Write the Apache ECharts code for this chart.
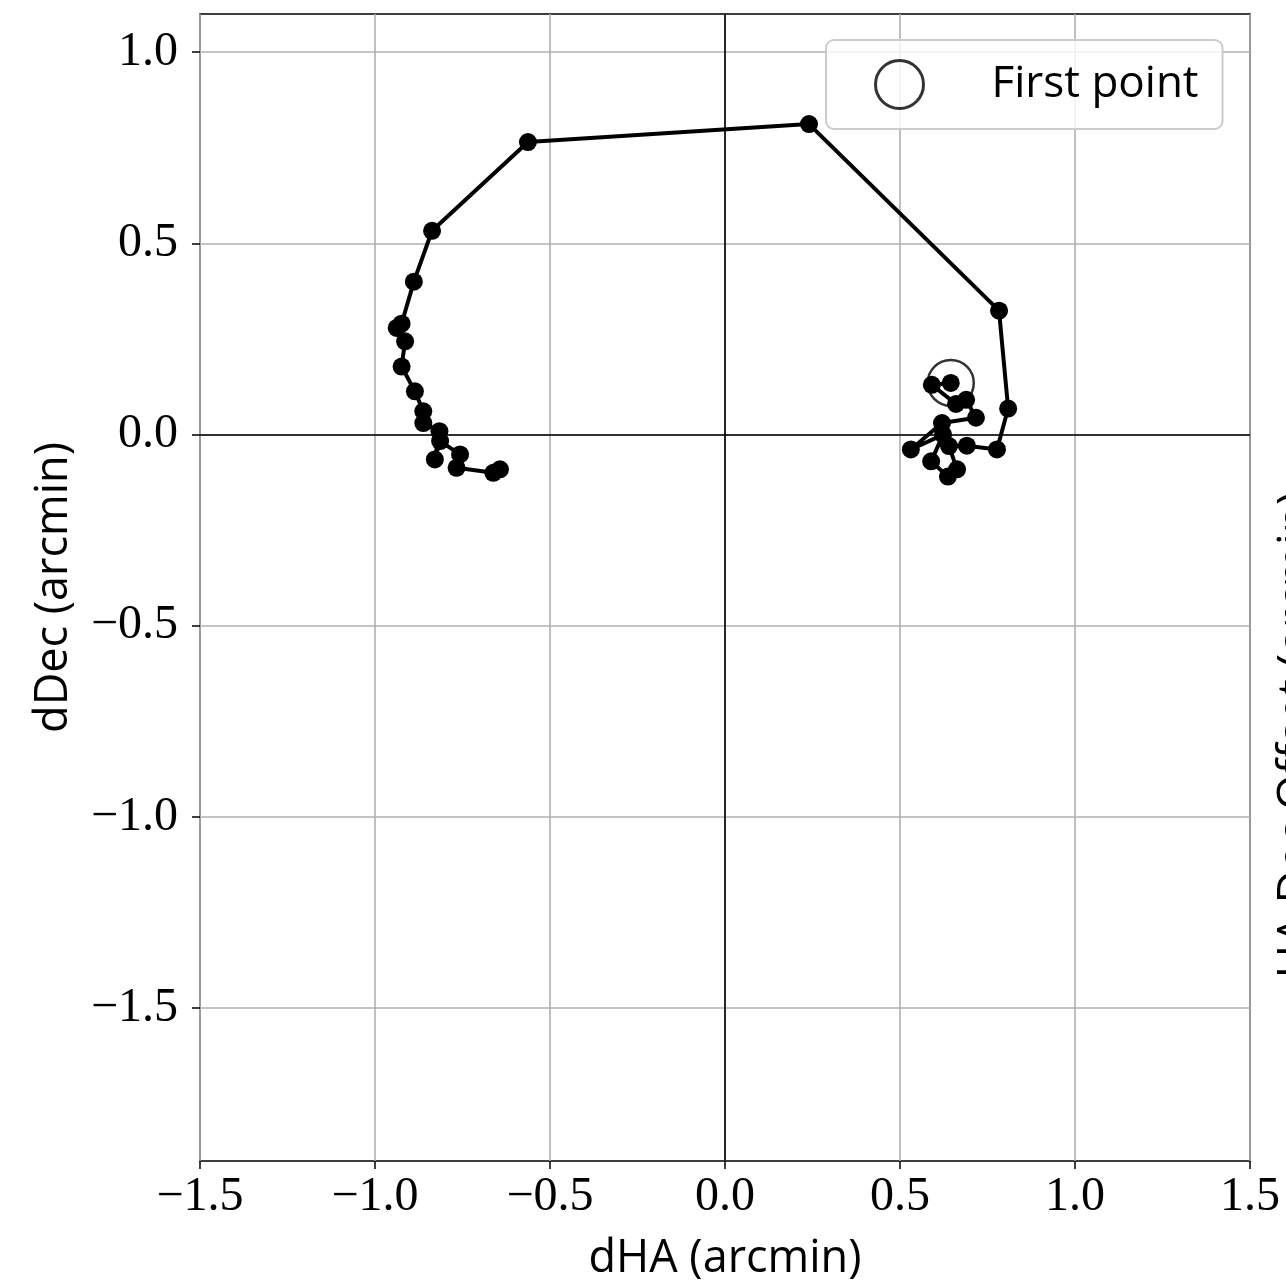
<!DOCTYPE html>
<html>
<head>
<meta charset="utf-8">
<script src="https://cdn.jsdelivr.net/npm/echarts@6/dist/echarts.min.js"></script>
<style>
html,body{margin:0;padding:0;background:#fff;}
#chart{width:1286px;height:1287px;}
</style>
</head>
<body>
<div id="chart"></div>
<script>
// Pointing offsets, in order along the track (first point is in the right-hand cluster)
const dHA = [0.645, 0.591, 0.660, 0.689, 0.717, 0.620, 0.531, 0.623, 0.589, 0.637, 0.663, 0.640, 0.691, 0.777, 0.809, 0.783,
             0.240, -0.563, -0.837, -0.889, -0.924, -0.938, -0.914, -0.924, -0.886, -0.862, -0.862, -0.816, -0.829, -0.814,
             -0.757, -0.767, -0.662, -0.643];
const dDec = [0.135, 0.130, 0.080, 0.091, 0.044, 0.030, -0.039, 0.000, -0.070, -0.110, -0.091, -0.030, -0.029, -0.039, 0.068, 0.324,
              0.812, 0.765, 0.533, 0.400, 0.290, 0.279, 0.244, 0.178, 0.113, 0.061, 0.030, 0.009, -0.065, -0.017,
              -0.052, -0.087, -0.100, -0.091];
const xTicks = [-1.5, -1.0, -0.5, 0.0, 0.5, 1.0, 1.5];
const yTicks = [-1.5, -1.0, -0.5, 0.0, 0.5, 1.0];
const xLabel = 'dHA (arcmin)';
const yLabel = 'dDec (arcmin)';
const rightLabel = 'HA Dec Offset (arcmin)';
const legendName = 'First point';

const fmt = v => (v < 0 ? '\u2212' : '') + Math.abs(v).toFixed(1);
const track = dHA.map((x, i) => [x, dDec[i]]);

const chart = echarts.init(document.getElementById('chart'), null, {renderer: 'canvas'});
const tickFont = {fontFamily: 'Liberation Serif', fontSize: 48, color: '#000'};
const sansFont = 'Open Sans';

chart.setOption({
  animation: false,
  backgroundColor: '#fff',
  grid: {left: 200, right: 36, top: 14, bottom: 125, show: true, borderColor: '#000', borderWidth: 1.5, backgroundColor: 'transparent'},
  legend: {
    left: 826, top: 40,
    padding: [19, 24, 19, 48],
    itemWidth: 48, itemHeight: 48,
    backgroundColor: 'rgba(255,255,255,0.8)',
    borderColor: '#cccccc', borderWidth: 2, borderRadius: 8,
    textStyle: {fontFamily: sansFont, fontSize: 44, color: '#000', padding: [0, 0, 0, 63]},
    data: [{name: legendName, icon: 'circle', itemStyle: {color: 'rgba(0,0,0,0)', borderColor: '#000', borderWidth: 3}}]
  },
  xAxis: {
    type: 'value', min: xTicks[0], max: xTicks[xTicks.length - 1], interval: 0.5,
    axisLine: {show: false, onZero: false},
    axisTick: {show: true, inside: false, length: 8, lineStyle: {color: '#000', width: 1.5}},
    axisLabel: {show: true, margin: 12, formatter: fmt, ...tickFont, showMinLabel: true, showMaxLabel: true},
    splitLine: {show: true, lineStyle: {color: '#b0b0b0', width: 1.6}},
    name: xLabel, nameLocation: 'middle', nameGap: 76,
    nameTextStyle: {fontFamily: sansFont, fontSize: 45, color: '#000'}
  },
  yAxis: {
    type: 'value', min: -1.9, max: 1.1,
    axisLine: {show: false, onZero: false},
    axisTick: {show: true, inside: false, length: 8, lineStyle: {color: '#000', width: 1.5}, customValues: yTicks},
    axisLabel: {show: true, margin: 22, formatter: fmt, ...tickFont, customValues: yTicks},
    splitLine: {show: true, lineStyle: {color: '#b0b0b0', width: 1.6}},
    name: yLabel, nameLocation: 'middle', nameGap: 123,
    nameTextStyle: {fontFamily: sansFont, fontSize: 45, color: '#000'}
  },
  series: [
    {
      name: 'track', type: 'line', data: track,
      symbol: 'circle', symbolSize: 18, showSymbol: true,
      itemStyle: {color: '#000'}, lineStyle: {color: '#000', width: 4},
      z: 3,
      markLine: {
        silent: true, symbol: ['none', 'none'], animation: false,
        label: {show: false},
        lineStyle: {color: '#000', width: 1.6, type: 'solid'},
        data: [{xAxis: 0}, {yAxis: 0}],
        z: 1
      }
    },
    {
      name: legendName, type: 'scatter', data: [track[0]],
      symbol: 'circle', symbolSize: 46,
      itemStyle: {color: 'rgba(0,0,0,0)', borderColor: '#000', borderWidth: 2.5},
      z: 4
    }
  ],
  graphic: [{
    type: 'text', x: 1297, y: 735, rotation: Math.PI / 2,
    style: {text: rightLabel, font: '46px "Open Sans"', fill: '#000', align: 'center', verticalAlign: 'middle', textAlign: 'center', textVerticalAlign: 'middle'}
  }]
});
</script>
</body>
</html>
